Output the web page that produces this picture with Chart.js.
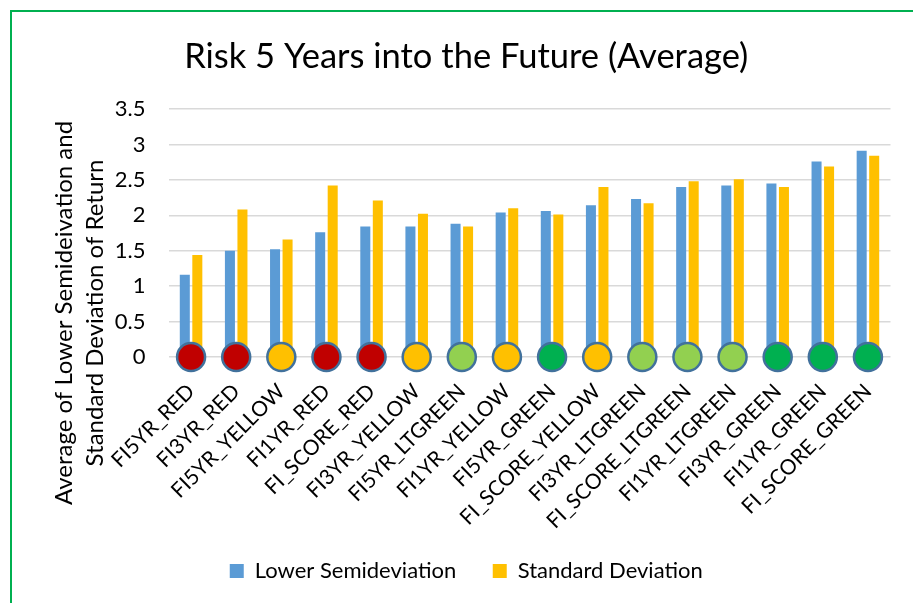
<!DOCTYPE html>
<html>
<head>
<meta charset="utf-8">
<script src="https://cdn.jsdelivr.net/npm/chart.js@4.4.1/dist/chart.umd.min.js"></script>
<style>
  html, body { margin: 0; padding: 0; background: #fff; }
  #wrap { position: relative; width: 913px; height: 603px; overflow: hidden; }
  #frame { position: absolute; left: 10px; top: 10px; width: 980px; height: 680px;
           border-top: 2px solid #00b050; border-left: 2px solid #00b050; }
  #chart { position: absolute; left: 0; top: 0; }
</style>
</head>
<body>
<div id="wrap">
  <div id="frame"></div>
  <canvas id="chart" width="913" height="603"></canvas>
</div>
<script>
// ===============================
// DATA
// ===============================
const categories = [
  "FI5YR_RED", "FI3YR_RED", "FI5YR_YELLOW", "FI1YR_RED", "FI_SCORE_RED",
  "FI3YR_YELLOW", "FI5YR_LTGREEN", "FI1YR_YELLOW", "FI5YR_GREEN", "FI_SCORE_YELLOW",
  "FI3YR_LTGREEN", "FI_SCORE_LTGREEN", "FI1YR_LTGREEN", "FI3YR_GREEN", "FI1YR_GREEN",
  "FI_SCORE_GREEN"
];
const lowerSemi = [1.16, 1.50, 1.52, 1.76, 1.84, 1.84, 1.88, 2.04, 2.06, 2.14, 2.23, 2.40, 2.42, 2.45, 2.76, 2.91];
const stdDev    = [1.44, 2.08, 1.66, 2.42, 2.21, 2.02, 1.84, 2.10, 2.01, 2.40, 2.17, 2.48, 2.51, 2.40, 2.69, 2.84];
// status dot sitting on the zero line under each group
const dotLevel  = ["RED", "RED", "YELLOW", "RED", "RED", "YELLOW", "LTGREEN", "YELLOW", "GREEN", "YELLOW",
                   "LTGREEN", "LTGREEN", "LTGREEN", "GREEN", "GREEN", "GREEN"];
const dotValue  = [0, 0, 0, 0, 0, 0, 0, 0, 0, 0, 0, 0, 0, 0, 0, 0];
const yTitle = ["Average of Lower Semideivation and", "Standard Deviation of Return"];

const levelColor = { RED: "#c00000", YELLOW: "#ffc000", LTGREEN: "#92d050", GREEN: "#00b050" };
const FONT = "Lato, 'Open Sans', sans-serif";

// ===============================
// Y AXIS TITLE (centred on the whole left side, like Excel)
// ===============================
const yTitlePlugin = {
  id: "yTitle",
  afterDraw(chart) {
    const ctx = chart.ctx;
    ctx.save();
    ctx.font = "24px " + FONT;
    ctx.fillStyle = "#000";
    ctx.textAlign = "center";
    ctx.textBaseline = "middle";
    ctx.translate(64, 313);
    ctx.rotate(-Math.PI / 2);
    ctx.fillText(yTitle[0], 0, 0);
    ctx.fillText(yTitle[1], 0, 31);
    ctx.restore();
  }
};

new Chart(document.getElementById("chart"), {
  type: "bar",
  data: {
    labels: categories,
    datasets: [
      {
        type: "line",
        label: "Status",
        data: dotValue,
        showLine: false,
        order: -1,
        clip: false,
        pointRadius: 14,
        pointHoverRadius: 14,
        pointBorderWidth: 2.5,
        pointBorderColor: "#41719c",
        pointBackgroundColor: dotLevel.map(l => levelColor[l])
      },
      {
        label: "Lower Semideviation",
        data: lowerSemi,
        backgroundColor: "#5b9bd5",
        categoryPercentage: 0.555,
        barPercentage: 0.8
      },
      {
        label: "Standard Deviation",
        data: stdDev,
        backgroundColor: "#ffc000",
        categoryPercentage: 0.555,
        barPercentage: 0.8
      }
    ]
  },
  options: {
    responsive: false,
    animation: false,
    layout: { padding: { top: 36, left: 42, right: 22.5, bottom: 11 } },
    plugins: {
      title: {
        display: true,
        text: "Risk 5 Years into the Future (Average)",
        color: "#000",
        font: { family: FONT, size: 34.5, weight: "normal", lineHeight: 1.2 },
        padding: { top: 0, bottom: 31.6 }
      },
      legend: {
        position: "bottom",
        labels: {
          filter: item => item.datasetIndex !== 0,
          generateLabels: chart => {
            const items = Chart.defaults.plugins.legend.labels.generateLabels(chart);
            items.forEach(it => { if (it.datasetIndex === 1) it.text += "    "; });
            return items;
          },
          boxWidth: 14,
          boxHeight: 14,
          padding: 14,
          color: "#000",
          font: { family: FONT, size: 22 }
        }
      },
      tooltip: { enabled: false }
    },
    scales: {
      x: {
        grid: { display: false },
        border: { display: false },
        afterFit: s => { s.height = 189; },
        ticks: {
          autoSkip: false,
          minRotation: 45,
          maxRotation: 45,
          padding: 14,
          color: "#000",
          font: { family: FONT, size: 21 }
        }
      },
      y: {
        min: 0,
        max: 3.5,
        afterFit: s => { s.width = 126.5; },
        grid: { color: "#d9d9d9", lineWidth: 1.5, drawTicks: false },
        border: { display: false },
        ticks: {
          stepSize: 0.5,
          padding: 23,
          color: "#000",
          font: { family: FONT, size: 22 },
          callback: v => String(v)
        }
      }
    }
  },
  plugins: [yTitlePlugin]
});
</script>
</body>
</html>
